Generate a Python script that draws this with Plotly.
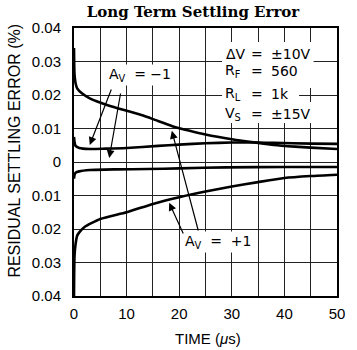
import plotly.graph_objects as go

# ---- data ----
time_pos_big = [0, 0.1, 0.3, 0.6, 1.5, 3, 6.7, 10, 12.8, 15, 18.7, 22, 25, 30, 35, 38, 42, 45, 50]
err_pos_big = [0.034, 0.026, 0.0235, 0.022, 0.0205, 0.019, 0.0168, 0.0153, 0.014, 0.0128, 0.0107, 0.0093, 0.0082, 0.0068, 0.0057, 0.0051, 0.0046, 0.0043, 0.0039]

time_pos_small = [0, 0.1, 0.3, 1, 3, 6, 10, 16, 20, 25, 30, 35, 38, 45, 50]
err_pos_small = [0.0075, 0.006, 0.0048, 0.0042, 0.0039, 0.0040, 0.0042, 0.0048, 0.0052, 0.0056, 0.0058, 0.0058, 0.0057, 0.0055, 0.0054]

time_neg_small = [0, 0.1, 0.3, 1, 3, 8, 14, 20, 29, 40, 50]
err_neg_small = [-0.005, -0.0038, -0.0032, -0.0028, -0.0024, -0.0022, -0.0021, -0.0019, -0.0016, -0.0015, -0.0015]

time_neg_big = [0, 0.1, 0.3, 0.6, 1, 2, 5, 10, 15, 20, 25, 30, 35, 40, 45, 50]
err_neg_big = [-0.04, -0.028, -0.0245, -0.022, -0.021, -0.0194, -0.017, -0.015, -0.0125, -0.0105, -0.0088, -0.0073, -0.006, -0.0048, -0.0042, -0.0038]

x_ticks = [0, 10, 20, 30, 40, 50]
y_ticks = [-0.04, -0.03, -0.02, -0.01, 0, 0.01, 0.02, 0.03, 0.04]
y_tick_labels = ["0.04", "0.03", "0.02", "0.01", "0", "0.01", "0.02", "0.03", "0.04"]

cond_names = ["ΔV", "R<sub>F</sub>", "R<sub>L</sub>", "V<sub>S</sub>"]
cond_values = ["±10V", "560", "1k", "±15V"]
cond_y = [0.0322, 0.0272, 0.0202, 0.0143]

NB = "\u00a0"
fig = go.Figure()
for tx, ty in [(time_pos_big, err_pos_big), (time_pos_small, err_pos_small),
               (time_neg_small, err_neg_small), (time_neg_big, err_neg_big)]:
    fig.add_trace(go.Scatter(x=tx, y=ty, mode="lines", line=dict(color="black", width=2.6, shape="spline", smoothing=0.6),
                             showlegend=False, hoverinfo="skip"))

FONT = "Liberation Sans"
LBL = "DejaVu Sans"


def px_x(p):
    return (p - 74) / 5.4


def px_y(p):
    return (162 - p) / 3350


# white background behind the conditions block (above grid, below curves)
shapes = []
for (x0, x1, y0, y1) in [(226, 320, 42, 88), (226, 305, 88, 102), (226, 320, 102, 123)]:
    shapes.append(dict(type="rect", xref="x", yref="y", x0=px_x(x0), x1=px_x(x1), y0=px_y(y1), y1=px_y(y0),
                       fillcolor="white", line=dict(width=0), layer="between"))

name_cx = [240, 237, 237, 237]
val_cx = [297, 290, 285, 297]
ann = []
for name, val, y, ncx, vcx in zip(cond_names, cond_values, cond_y, name_cx, val_cx):
    ann.append(dict(x=px_x(ncx), y=y, xref="x", yref="y", text=name, showarrow=False, xanchor="center",
                    yanchor="middle", font=dict(family=LBL, size=14, color="black"), borderpad=0))
    ann.append(dict(x=px_x(262), y=y, xref="x", yref="y", text="=", showarrow=False, xanchor="center",
                    yanchor="middle", font=dict(family=LBL, size=14, color="black"), borderpad=0))
    ann.append(dict(x=px_x(vcx), y=y, xref="x", yref="y", text=val, showarrow=False, xanchor="center",
                    yanchor="middle", font=dict(family=LBL, size=14, color="black"), borderpad=0))
ann.append(dict(x=12.5, y=0.026, xref="x", yref="y", text="A<sub>V</sub>" + NB * 2 + "=" + NB + "−1",
                showarrow=False, font=dict(family=LBL, size=14, color="black"), bgcolor="white", borderpad=1))
ann.append(dict(x=27.3, y=-0.0239, xref="x", yref="y", text="A<sub>V</sub>" + NB * 2 + "=" + NB * 2 + "+1",
                showarrow=False, font=dict(family=LBL, size=14, color="black"), bgcolor="white", borderpad=1))
arrows = [((3.0, 0.0051), (7.2, 0.0221)), ((6.7, 0.0012), (8.9, 0.0209)),
          ((18.6, 0.0093), (23.7, -0.0209)), ((18.1, -0.0122), (20.9, -0.0218))]
for (hx, hy), (tx, ty) in arrows:
    ann.append(dict(x=hx, y=hy, ax=tx, ay=ty, xref="x", yref="y", axref="x", ayref="y", text="",
                    showarrow=True, arrowhead=2, arrowsize=1.3, arrowwidth=1.2, arrowcolor="black"))
ann.append(dict(x=(12 - 74) / 270, y=(296 - 151) / 268, xref="paper", yref="paper",
                text="RESIDUAL SETTLING ERROR (%)",
                showarrow=False, textangle=-90, font=dict(family=FONT, size=16, color="black"),
                xanchor="center", yanchor="middle"))
ann.append(dict(x=(212 - 74) / 270, y=(296 - 338) / 268, xref="paper", yref="paper", text="TIME (<i>μ</i>s)",
                showarrow=False, font=dict(family=FONT, size=15, color="black"), xanchor="center", yanchor="middle"))

fig.update_layout(
    width=357, height=350,
    margin=dict(l=74, r=13, t=28, b=54),
    paper_bgcolor="white", plot_bgcolor="white",
    title=dict(text="<b>Long Term Settling Error</b>", x=193 / 357, xanchor="center", y=1 - 12 / 350, yanchor="middle",
               font=dict(family="DejaVu Serif", size=15, color="black")),
    annotations=ann,
    shapes=shapes,
    font=dict(family=FONT, size=15, color="black"),
)
fig.update_xaxes(range=[0, 50], tickmode="array", tickvals=x_ticks, showgrid=True, gridcolor="#222", gridwidth=1,
                 showline=True, linecolor="black", linewidth=2, mirror=True,
                 ticks="", ticklabelstandoff=3, zeroline=False, tickfont=dict(family=FONT, size=15),
                 minor=dict(showgrid=True, gridcolor="#222", gridwidth=1, tickvals=[5, 15, 25, 35, 45]))
fig.update_yaxes(range=[-0.04, 0.04], tickvals=y_ticks, ticktext=y_tick_labels, showgrid=True, gridcolor="#222",
                 gridwidth=1, showline=True, linecolor="black", linewidth=2, mirror=True, ticks="",
                 ticklabelstandoff=8, zeroline=False, tickfont=dict(family=FONT, size=15))

fig.write_html("out.html", config={"displayModeBar": False},
               post_script="document.body.style.margin='0px';document.body.style.padding='0px';")
